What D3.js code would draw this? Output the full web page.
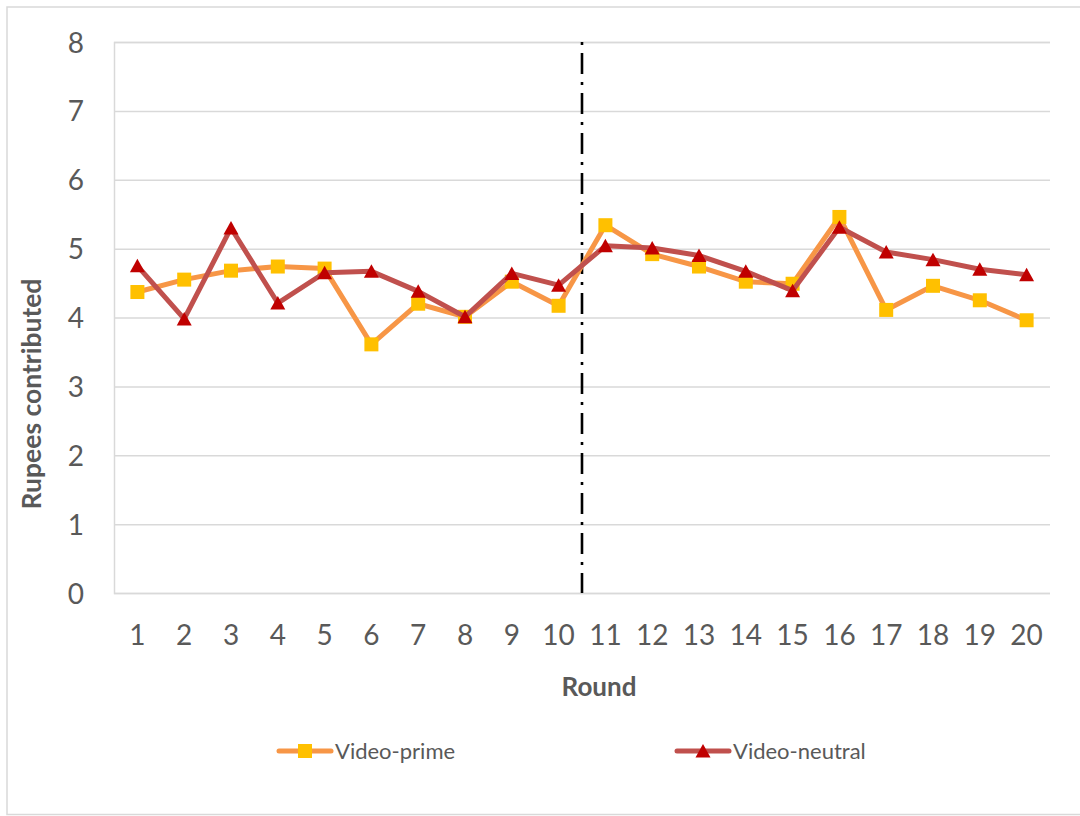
<!DOCTYPE html>
<html>
<head>
<meta charset="utf-8">
<script src="https://cdn.jsdelivr.net/npm/d3@7/dist/d3.min.js"></script>
<style>
  html, body { margin: 0; padding: 0; background: #fff; }
  svg { display: block; font-family: Lato, "Open Sans", sans-serif; }
</style>
</head>
<body>
<svg id="chart" width="1080" height="816"></svg>
<script>
// Rounds of the public-goods game
const rounds = [1,2,3,4,5,6,7,8,9,10,11,12,13,14,15,16,17,18,19,20];
// Mean contribution per round (rupees)
const videoPrime   = [4.37,4.55,4.68,4.74,4.71,3.61,4.20,4.01,4.52,4.17,5.34,4.92,4.74,4.52,4.49,5.46,4.11,4.46,4.25,3.96];
const videoNeutral = [4.75,3.98,5.30,4.21,4.65,4.67,4.38,4.01,4.64,4.47,5.04,5.01,4.90,4.67,4.39,5.31,4.95,4.84,4.70,4.62];
const yTicks = [0,1,2,3,4,5,6,7,8];
const seriesNames = ["Video-prime", "Video-neutral"];
const breakAfterRound = 10;

const svg = d3.select("#chart");
const W = 1080, H = 816;
const plot = { left: 114, right: 1050, top: 42, bottom: 593 };
const textGray = "#595959";
const gridGray = "#D9D9D9";

// Chart frame
svg.append("rect")
  .attr("x", 7).attr("y", 7)
  .attr("width", W).attr("height", 807.5)
  .attr("fill", "#fff").attr("stroke", gridGray).attr("stroke-width", 1.5);

const x = d3.scaleBand().domain(rounds).range([plot.left, plot.right]);
const cx = r => x(r) + x.bandwidth() / 2;
const y = d3.scaleLinear().domain([0, 8]).range([plot.bottom, plot.top]);

// Horizontal gridlines and value labels
const yAxis = d3.axisLeft(y).tickValues(yTicks).tickSize(-(plot.right - plot.left)).tickPadding(30).tickFormat(d3.format("d"));
const gy = svg.append("g").attr("transform", `translate(${plot.left},0)`).call(yAxis);
gy.select(".domain").attr("stroke", gridGray).attr("stroke-width", 1.5);
gy.selectAll(".tick line").attr("stroke", gridGray).attr("stroke-width", 1.5);
gy.selectAll(".tick text")
  .attr("fill", textGray).attr("font-size", 28).attr("font-family", "Lato")
  .attr("dy", "0.36em");

// Category labels
const xAxis = d3.axisBottom(x).tickSize(0).tickPadding(0);
const gx = svg.append("g").attr("transform", `translate(0,${plot.bottom})`).call(xAxis);
gx.select(".domain").remove();
gx.selectAll(".tick text")
  .attr("fill", textGray).attr("font-size", 28).attr("font-family", "Lato")
  .attr("dy", null).attr("y", 52);

// Treatment break between rounds 10 and 11
const xb = x(breakAfterRound) + x.bandwidth();
svg.append("line")
  .attr("x1", xb).attr("x2", xb)
  .attr("y1", y(8)).attr("y2", y(0))
  .attr("stroke", "#000").attr("stroke-width", 2.6)
  .attr("stroke-dasharray", "3,8,21,8");

// Series
const line = d3.line().x((d, i) => cx(rounds[i])).y(d => y(d));
const triPath = "M0,-7 L7.5,6.5 L-7.5,6.5 Z";

function drawPrime(g) {
  g.append("path").datum(videoPrime)
    .attr("d", line).attr("fill", "none")
    .attr("stroke", "#F79646").attr("stroke-width", 5).attr("stroke-linejoin", "round").attr("stroke-linecap", "round");
  g.selectAll("rect.m").data(videoPrime).enter().append("rect")
    .attr("class", "m")
    .attr("x", (d, i) => cx(rounds[i]) - 7).attr("y", d => y(d) - 7)
    .attr("width", 14).attr("height", 14)
    .attr("fill", "#FFC000");
}
function drawNeutral(g) {
  g.append("path").datum(videoNeutral)
    .attr("d", line).attr("fill", "none")
    .attr("stroke", "#C0504D").attr("stroke-width", 5).attr("stroke-linejoin", "round").attr("stroke-linecap", "round");
  g.selectAll("path.m").data(videoNeutral).enter().append("path")
    .attr("class", "m")
    .attr("d", triPath)
    .attr("transform", (d, i) => `translate(${cx(rounds[i])},${y(d)})`)
    .attr("fill", "#C00000");
}
drawPrime(svg.append("g"));
drawNeutral(svg.append("g"));

// Axis titles
svg.append("text")
  .attr("x", (plot.left + plot.right) / 2 + 17).attr("y", 696)
  .attr("text-anchor", "middle")
  .attr("font-size", 26).attr("font-weight", 700).attr("fill", textGray)
  .text("Round");
svg.append("text")
  .attr("transform", "translate(41,394) rotate(-90)")
  .attr("text-anchor", "middle")
  .attr("font-size", 26.5).attr("font-weight", 700).attr("fill", textGray)
  .text("Rupees contributed");

// Legend
const legend = [
  { name: seriesNames[0], x0: 277, line: "#F79646", marker: "rect", fill: "#FFC000" },
  { name: seriesNames[1], x0: 675, line: "#C0504D", marker: "tri", fill: "#C00000" }
];
const ly = 751;
legend.forEach(l => {
  const g = svg.append("g");
  g.append("line").attr("x1", l.x0 + 2).attr("x2", l.x0 + 54).attr("y1", ly).attr("y2", ly)
    .attr("stroke", l.line).attr("stroke-width", 5).attr("stroke-linecap", "round");
  if (l.marker === "rect") {
    g.append("rect").attr("x", l.x0 + 28 - 7).attr("y", ly - 7).attr("width", 14).attr("height", 14).attr("fill", l.fill);
  } else {
    g.append("path").attr("d", triPath).attr("transform", `translate(${l.x0 + 28},${ly})`).attr("fill", l.fill);
  }
  g.append("text").attr("x", l.x0 + 58).attr("y", ly + 8)
    .attr("font-size", 22).attr("fill", textGray).text(l.name);
});
</script>
</body>
</html>
